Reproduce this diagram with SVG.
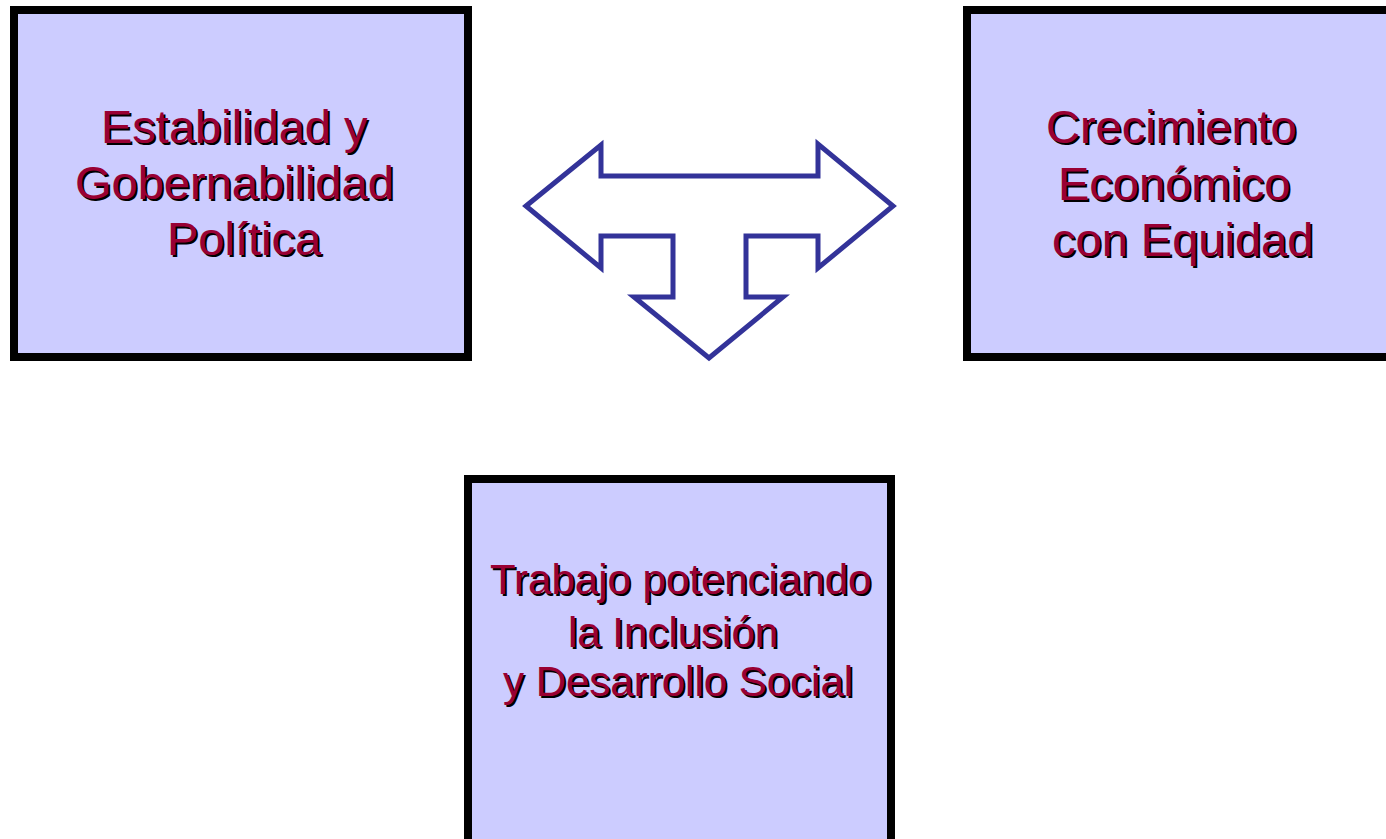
<svg xmlns="http://www.w3.org/2000/svg" xmlns:xlink="http://www.w3.org/1999/xlink" width="1386" height="839" viewBox="0 0 1386 839">
  <style>
    .box { fill: #CCCCFF; stroke: #000000; stroke-width: 8; }
    .lbl { font-family: "Liberation Sans", Arial, sans-serif; font-size: 47px; }
    .lbl2 { font-family: "Liberation Sans", Arial, sans-serif; font-size: 42px; }
    .shadow { fill: #000000; }
    .main { fill: #990033; }
    .arrow { fill: #FFFFFF; stroke: #333399; stroke-width: 5; stroke-linejoin: miter; }
  </style>
  <defs>
    <g id="t1">
      <text class="lbl" x="101" y="143">Estabilidad y</text>
      <text class="lbl" x="75" y="199">Gobernabilidad</text>
      <text class="lbl" x="167" y="255">Política</text>
    </g>
    <g id="t2">
      <text class="lbl" x="1046" y="143">Crecimiento</text>
      <text class="lbl" x="1058" y="200">Económico</text>
      <text class="lbl" x="1052" y="256">con Equidad</text>
    </g>
    <g id="t3">
      <text class="lbl2" x="490" y="594">Trabajo potenciando</text>
      <text class="lbl2" x="568" y="647">la Inclusión</text>
      <text class="lbl2" x="503" y="696">y Desarrollo Social</text>
    </g>
  </defs>
  <rect width="1386" height="839" fill="#FFFFFF"/>
  <g id="node-estabilidad">
    <rect class="box" x="14" y="10" width="454" height="347"/>
    <use xlink:href="#t1" class="shadow" transform="translate(2,2)"/>
    <use xlink:href="#t1" class="main"/>
  </g>
  <g id="node-crecimiento">
    <rect class="box" x="967" y="10" width="440" height="347"/>
    <use xlink:href="#t2" class="shadow" transform="translate(2,2)"/>
    <use xlink:href="#t2" class="main"/>
  </g>
  <g id="node-trabajo">
    <rect class="box" x="468" y="479" width="423" height="420"/>
    <use xlink:href="#t3" class="shadow" transform="translate(2,2)"/>
    <use xlink:href="#t3" class="main"/>
  </g>
  <g id="connectors">
    <polygon class="arrow" points="526,206 601,145 601,176 818,176 818,144 893,206 818,268 818,236 746,236 746,297 783,297 709,358 634,297 673,297 673,236 601,236 601,268"/>
  </g>
</svg>
